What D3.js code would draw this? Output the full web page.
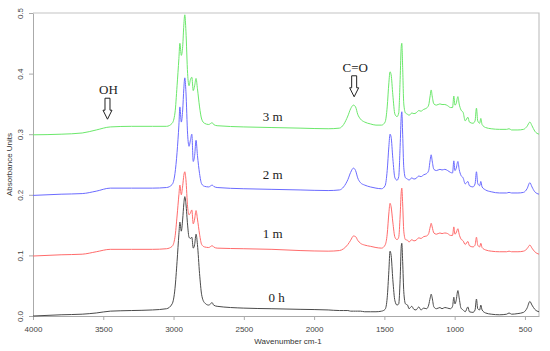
<!DOCTYPE html>
<html>
<head>
<meta charset="utf-8">
<script src="https://cdn.jsdelivr.net/npm/d3@7/dist/d3.min.js"></script>
<style>
  body { margin: 0; background: #fff; }
  .axis path, .axis line { stroke: #aaa; }
  .axis text { fill: #444; font-family: Arial, "Liberation Sans", sans-serif; font-size: 8px; }
  .note { font-family: "Liberation Serif", "Times New Roman", serif; font-size: 13px; fill: #222; }
</style>
</head>
<body>
<script>
var svgW = 550;
var svgH = 351;

var margin = { top: 13, right: 11, bottom: 35, left: 33 };
var chartWidth = svgW - margin.left - margin.right;
var chartHeight = svgH - margin.top - margin.bottom;

// wavenumbers (cm-1), shared by all spectra
var wavenumber = [4000, 3800, 3650, 3550, 3450, 3300, 3150, 3050, 3010, 2990,
  2975, 2962, 2955, 2945, 2935, 2927, 2920, 2912, 2900, 2890,
  2880, 2870, 2860, 2850, 2840, 2830, 2815, 2800, 2780, 2750,
  2725, 2715, 2690, 2500, 2300, 2100, 1900, 1820, 1790, 1760,
  1740, 1720, 1705, 1690, 1670, 1640, 1600, 1560, 1520, 1495,
  1480, 1468, 1460, 1452, 1440, 1425, 1410, 1398, 1388, 1380,
  1376, 1370, 1362, 1350, 1335, 1325, 1305, 1290, 1275, 1255,
  1240, 1220, 1200, 1185, 1174, 1167, 1160, 1148, 1130, 1105,
  1090, 1070, 1050, 1030, 1015, 1006, 998, 990, 977, 968,
  955, 940, 925, 906, 895, 870, 855, 845, 836, 822,
  814, 805, 780, 740, 680, 630, 613, 595, 550, 510,
  485, 465, 450, 430, 400];

var abs0h = [0.000, 0.002, 0.003, 0.005, 0.008, 0.009, 0.010, 0.012, 0.020, 0.045,
  0.090, 0.135, 0.155, 0.140, 0.160, 0.185, 0.197, 0.185, 0.150, 0.130,
  0.128, 0.130, 0.112, 0.118, 0.135, 0.118, 0.070, 0.035, 0.022, 0.018,
  0.022, 0.018, 0.016, 0.013, 0.012, 0.011, 0.010, 0.009, 0.009, 0.009,
  0.008, 0.008, 0.008, 0.008, 0.008, 0.007, 0.007, 0.007, 0.008, 0.011,
  0.030, 0.075, 0.107, 0.100, 0.060, 0.025, 0.018, 0.020, 0.060, 0.115,
  0.120, 0.090, 0.040, 0.020, 0.018, 0.012, 0.016, 0.011, 0.010, 0.015,
  0.010, 0.013, 0.012, 0.018, 0.030, 0.036, 0.030, 0.015, 0.012, 0.014,
  0.012, 0.014, 0.013, 0.012, 0.016, 0.031, 0.020, 0.025, 0.042, 0.030,
  0.013, 0.010, 0.007, 0.015, 0.007, 0.006, 0.010, 0.028, 0.012, 0.010,
  0.018, 0.010, 0.005, 0.003, 0.002, 0.003, 0.005, 0.003, 0.004, 0.006,
  0.013, 0.024, 0.018, 0.011, 0.007];

var abs1m = [0.099, 0.101, 0.102, 0.106, 0.110, 0.110, 0.110, 0.111, 0.115, 0.130,
  0.165, 0.200, 0.216, 0.200, 0.215, 0.232, 0.238, 0.225, 0.180, 0.167,
  0.170, 0.175, 0.152, 0.160, 0.174, 0.160, 0.135, 0.118, 0.114, 0.113,
  0.116, 0.114, 0.112, 0.111, 0.110, 0.108, 0.107, 0.108, 0.111, 0.118,
  0.125, 0.132, 0.131, 0.125, 0.120, 0.117, 0.115, 0.113, 0.112, 0.117,
  0.135, 0.170, 0.186, 0.180, 0.155, 0.130, 0.126, 0.130, 0.165, 0.205,
  0.211, 0.185, 0.140, 0.126, 0.125, 0.122, 0.126, 0.124, 0.125, 0.129,
  0.128, 0.131, 0.132, 0.136, 0.147, 0.153, 0.147, 0.137, 0.135, 0.137,
  0.136, 0.137, 0.136, 0.133, 0.133, 0.147, 0.135, 0.137, 0.144, 0.135,
  0.127, 0.124, 0.118, 0.123, 0.116, 0.114, 0.117, 0.130, 0.117, 0.114,
  0.120, 0.113, 0.109, 0.107, 0.106, 0.106, 0.107, 0.106, 0.106, 0.107,
  0.111, 0.117, 0.112, 0.106, 0.102];

var abs2m = [0.199, 0.201, 0.202, 0.206, 0.211, 0.211, 0.211, 0.212, 0.217, 0.235,
  0.270, 0.315, 0.345, 0.320, 0.340, 0.375, 0.393, 0.370, 0.300, 0.280,
  0.290, 0.300, 0.255, 0.265, 0.290, 0.265, 0.235, 0.218, 0.214, 0.213,
  0.216, 0.214, 0.212, 0.210, 0.209, 0.208, 0.207, 0.208, 0.213, 0.225,
  0.237, 0.244, 0.240, 0.228, 0.220, 0.216, 0.213, 0.211, 0.210, 0.215,
  0.240, 0.280, 0.300, 0.295, 0.260, 0.228, 0.224, 0.230, 0.280, 0.330,
  0.337, 0.300, 0.245, 0.228, 0.226, 0.224, 0.228, 0.226, 0.227, 0.231,
  0.230, 0.233, 0.235, 0.240, 0.258, 0.266, 0.256, 0.242, 0.240, 0.242,
  0.241, 0.242, 0.240, 0.237, 0.236, 0.256, 0.240, 0.243, 0.255, 0.242,
  0.232, 0.228, 0.218, 0.222, 0.215, 0.213, 0.218, 0.238, 0.219, 0.215,
  0.222, 0.213, 0.208, 0.205, 0.203, 0.203, 0.204, 0.203, 0.203, 0.204,
  0.210, 0.220, 0.213, 0.205, 0.201];

var abs3m = [0.299, 0.300, 0.302, 0.307, 0.312, 0.313, 0.313, 0.313, 0.318, 0.335,
  0.380, 0.425, 0.450, 0.430, 0.445, 0.480, 0.497, 0.470, 0.400, 0.380,
  0.390, 0.394, 0.372, 0.380, 0.392, 0.375, 0.345, 0.325, 0.318, 0.316,
  0.319, 0.316, 0.314, 0.312, 0.311, 0.310, 0.309, 0.310, 0.316, 0.330,
  0.342, 0.348, 0.345, 0.333, 0.325, 0.320, 0.317, 0.315, 0.315, 0.320,
  0.345, 0.385, 0.403, 0.398, 0.365, 0.333, 0.329, 0.335, 0.390, 0.445,
  0.450, 0.410, 0.350, 0.335, 0.333, 0.331, 0.335, 0.334, 0.335, 0.339,
  0.338, 0.341, 0.343, 0.348, 0.364, 0.373, 0.363, 0.350, 0.348, 0.350,
  0.349, 0.349, 0.347, 0.344, 0.344, 0.363, 0.348, 0.350, 0.362, 0.350,
  0.340, 0.336, 0.322, 0.328, 0.320, 0.318, 0.322, 0.343, 0.322, 0.318,
  0.326, 0.316, 0.311, 0.309, 0.308, 0.308, 0.309, 0.307, 0.307, 0.308,
  0.313, 0.320, 0.314, 0.305, 0.300];

var seriesNames = ["0 h", "1 m", "2 m", "3 m"];
var seriesValues = [abs0h, abs1m, abs2m, abs3m];
var seriesColors = ["#4a4a4a", "#ff6b6b", "#6b6bff", "#6be86b"];

var xTicks = [4000, 3500, 3000, 2500, 2000, 1500, 1000, 500];
var yTicks = [0.0, 0.1, 0.2, 0.3, 0.4, 0.5];

// series labels and band arrows: [text, wavenumber, absorbance]
var seriesLabels = [["0 h", 2325, 0.023], ["1 m", 2365, 0.129], ["2 m", 2365, 0.226], ["3 m", 2365, 0.322]];
var bands = [["OH", 3470, 0.366], ["C=O", 1715, 0.403]];

var svg = d3.select("body")
  .append("svg")
  .attr("width", svgW)
  .attr("height", svgH)
  .append("g")
  .attr("transform", "translate(" + margin.left + "," + margin.top + ")");

var xScale = d3.scaleLinear()
  .domain([4000, 400])
  .range([0, chartWidth]);

var yScale = d3.scaleLinear()
  .domain([0, 0.5])
  .range([chartHeight, 0]);

// frame (top + right)
svg.append("path")
  .attr("d", "M0,0H" + chartWidth + "V" + chartHeight)
  .attr("fill", "none")
  .attr("stroke", "#c4c4c4")
  .attr("stroke-width", 1.2);

var xAxis = d3.axisBottom(xScale)
  .tickValues(xTicks)
  .tickFormat(d3.format("d"))
  .tickSize(4)
  .tickSizeOuter(0);

var yAxis = d3.axisLeft(yScale)
  .tickValues(yTicks)
  .tickFormat(d3.format(".1f"))
  .tickSize(4)
  .tickSizeOuter(0);

svg.append("g")
  .attr("class", "axis")
  .attr("transform", "translate(0," + chartHeight + ")")
  .call(xAxis)
  .selectAll("text")
  .attr("dy", "1.1em");

var yg = svg.append("g")
  .attr("class", "axis")
  .call(yAxis);
yg.selectAll(".tick text")
  .attr("x", null)
  .attr("dy", null)
  .attr("text-anchor", "middle")
  .attr("transform", "translate(-10,0) rotate(-90)");

// axis titles
svg.append("text")
  .attr("x", chartWidth / 2 + 2)
  .attr("y", chartHeight + 28)
  .attr("text-anchor", "middle")
  .style("font-family", "Arial, 'Liberation Sans', sans-serif")
  .style("font-size", "8px")
  .style("fill", "#333")
  .text("Wavenumber cm-1");

svg.append("text")
  .attr("transform", "translate(-21," + (chartHeight / 2) + ") rotate(-90)")
  .attr("text-anchor", "middle")
  .style("font-family", "Arial, 'Liberation Sans', sans-serif")
  .style("font-size", "8px")
  .style("fill", "#333")
  .text("Absorbance Units");

// spectra
var line = d3.line()
  .x(function (d) { return xScale(d[0]); })
  .y(function (d) { return yScale(d[1]); })
  .curve(d3.curveMonotoneX);

seriesValues.forEach(function (vals, i) {
  var pts = wavenumber.map(function (w, j) { return [w, vals[j]]; });
  svg.append("path")
    .datum(pts)
    .attr("fill", "none")
    .attr("stroke", seriesColors[i])
    .attr("stroke-width", 1)
    .attr("d", line);
});

// series labels
svg.selectAll(".slabel")
  .data(seriesLabels)
  .enter()
  .append("text")
  .attr("class", "note")
  .attr("x", function (d) { return xScale(d[1]); })
  .attr("y", function (d) { return yScale(d[2]); })
  .text(function (d) { return d[0]; });

// band annotations with hollow arrows
bands.forEach(function (b) {
  var cx = xScale(b[1]);
  var ty = yScale(b[2]);
  svg.append("text")
    .attr("class", "note")
    .attr("x", cx + 1)
    .attr("y", ty)
    .attr("text-anchor", "middle")
    .text(b[0]);
  var top = ty + 4, neck = ty + 16, tip = ty + 25;
  svg.append("path")
    .attr("d", "M" + (cx - 2.5) + "," + top + "H" + (cx + 2.5) + "V" + neck +
      "H" + (cx + 4.5) + "L" + cx + "," + tip + "L" + (cx - 4.5) + "," + neck +
      "H" + (cx - 2.5) + "Z")
    .attr("fill", "#fff")
    .attr("stroke", "#222")
    .attr("stroke-width", 1);
});
</script>
</body>
</html>
